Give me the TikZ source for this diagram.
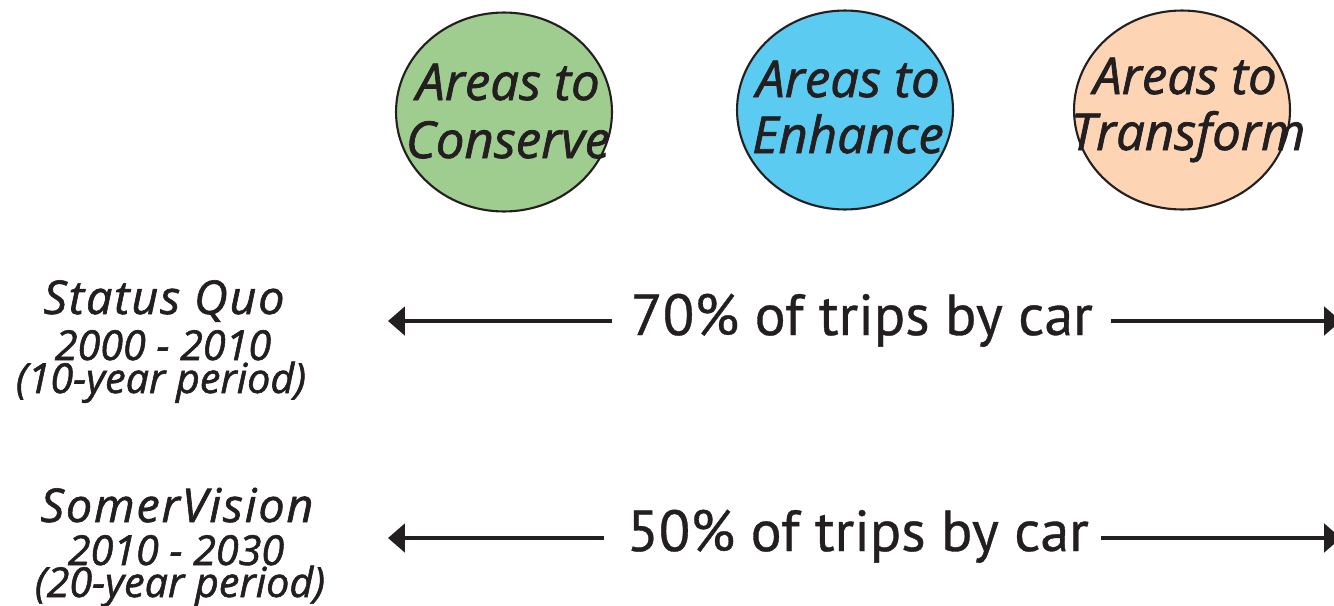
\documentclass[tikz,border=0pt]{standalone}
\usepackage{fontspec}
\setmainfont{PT Sans}[FakeBold=0.6]
\newfontfamily\areafont{Open Sans}[FakeBold=1.4]
\newfontfamily\periodfont{Open Sans}[LetterSpace=4, FakeBold=1.4]
\usetikzlibrary{positioning, arrows.meta, shapes.geometric}

\definecolor{conserveGreen}{HTML}{9FCC8F}
\definecolor{enhanceBlue}{HTML}{5BCBF2}
\definecolor{transformPeach}{HTML}{FDD5B4}
\definecolor{inkBlack}{HTML}{231F20}

\begin{document}
\begin{tikzpicture}
    [
        x=0.02cm, y=-0.02cm,
        area/.style={draw=inkBlack, ellipse, line width=1.2pt, inner sep=0pt,
            minimum width=4.32cm, minimum height=3.98cm},
        areatext/.style={text=inkBlack, anchor=base, inner sep=0pt,
            font=\areafont\fontsize{29}{32}\selectfont\itshape},
        title/.style={text=inkBlack, anchor=base, inner sep=0pt,
            font=\periodfont\fontsize{26.5}{29}\selectfont\itshape},
        period/.style={text=inkBlack, anchor=base, inner sep=0pt,
            font=\areafont\fontsize{23.5}{26}\selectfont\itshape},
        share/.style={text=inkBlack, anchor=base, inner sep=0pt,
            font=\fontsize{33}{36}\selectfont},
        carline/.style={draw=inkBlack, line width=2.8pt,
            -{Triangle[length=9.6pt, width=16pt]}}
    ]
        \useasboundingbox (0,0) rectangle (1334,605);
        % =========================================================================
        % CIRCLES
        % =========================================================================
        \node [area, fill=conserveGreen] (conserve) at (504,112) {};
        \node [area, fill=enhanceBlue] (enhance) at (845,110) {};
        \node [area, fill=transformPeach] (transform) at (1182,110) {};
        % --- Labels ---
        \node [areatext] (conserveA) at (508,100) {Areas to};
        \node [areatext] (conserveB) at (508,158) {Conserve};
        \node [areatext] (enhanceA) at (848,97) {Areas to};
        \node [areatext] (enhanceB) at (848,153) {Enhance};
        \node [areatext] (transformA) at (1185,94) {Areas to};
        \node [areatext] (transformB) at (1188,150) {Transform};

        % =========================================================================
        % ROWS
        % =========================================================================
        % --- Row 1 ---
        \node [title] (quo) at (164,314) {Status Quo};
        \node [period] (quoYears) at (163,360) {2000 - 2010};
        \node [period] (quoSpan) at (161,393) {(10-year period)};
        \node [share] (car70) at (862,335) {70\% of trips by car};
        \coordinate (quoL) at (388,321);
        \coordinate (quoR) at (1341,321);
        % --- Row 2 ---
        \node [title] (somer) at (177,522) {SomerVision};
        \node [period] (somerYears) at (176,565) {2010 - 2030};
        \node [period] (somerSpan) at (180,597) {(20-year period)};
        \node [share] (car50) at (858,551) {50\% of trips by car};
        \coordinate (somerL) at (388,538);
        \coordinate (somerR) at (1341,538);

        % =========================================================================
        % PATHS
        % =========================================================================
        \draw [carline] ([xshift=-0.38cm]car70.west |- quoL) -- (quoL);
        \draw [carline] ([xshift=0.36cm]car70.east |- quoR) -- (quoR);
        \draw [carline] ([xshift=-0.46cm]car50.west |- somerL) -- (somerL);
        \draw [carline] ([xshift=0.24cm]car50.east |- somerR) -- (somerR);

    \end{tikzpicture}
\end{document}
